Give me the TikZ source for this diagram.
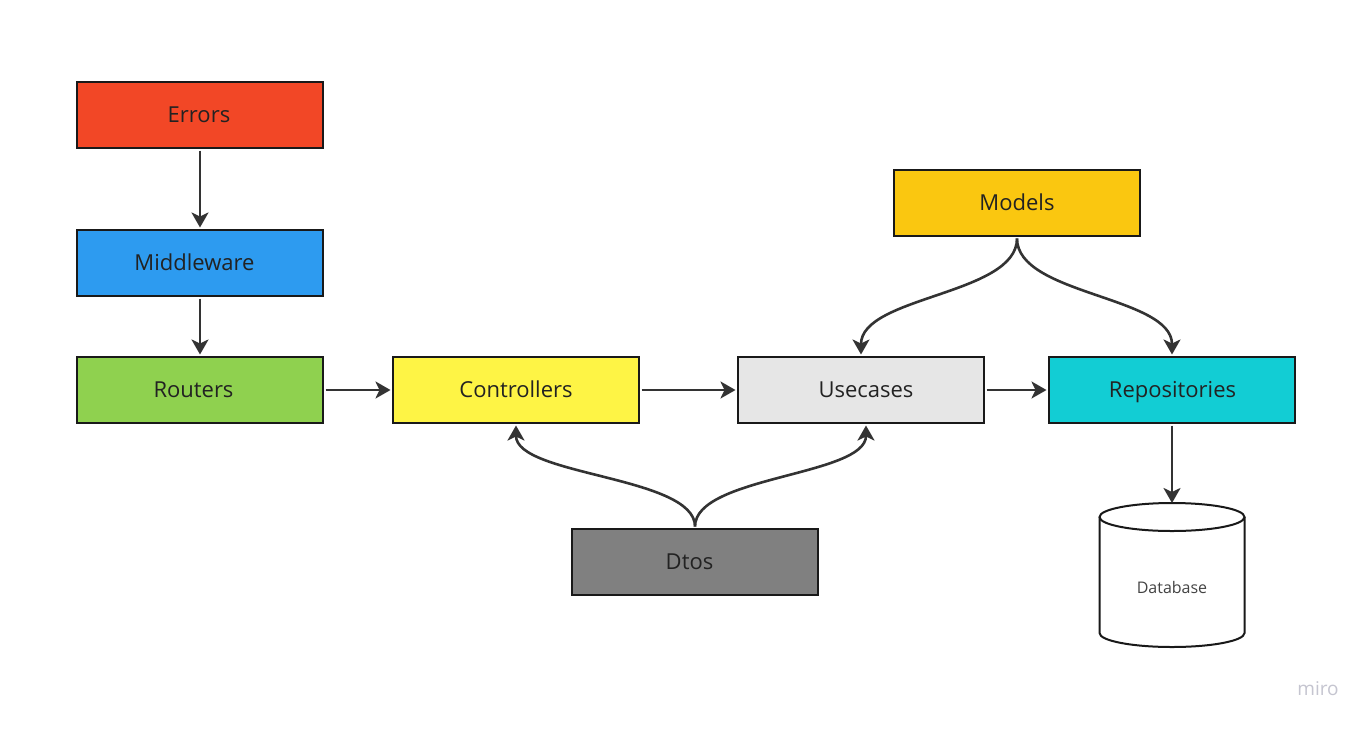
\documentclass[tikz,border=0pt]{standalone}
\usepackage{fontspec}
\setmainfont{Open Sans}
\usetikzlibrary{arrows.meta}
\definecolor{cErr}{HTML}{F24726}
\definecolor{cMid}{HTML}{2D9BF0}
\definecolor{cRou}{HTML}{8FD14F}
\definecolor{cCon}{HTML}{FEF445}
\definecolor{cUse}{HTML}{E6E6E6}
\definecolor{cRep}{HTML}{12CDD4}
\definecolor{cMod}{HTML}{FAC710}
\definecolor{cDto}{HTML}{808080}
\definecolor{cLine}{HTML}{333333}
\definecolor{cText}{HTML}{222222}
\definecolor{cMiro}{HTML}{C5C5D0}
\tikzset{
  box/.style={draw=black!90, line width=2pt, minimum width=246pt, minimum height=66pt, inner sep=0pt},
  lbl/.style={text=cText, font=\fontsize{22}{26}\selectfont, inner sep=0pt, text height=15.7pt, text depth=0pt},
  conn/.style={draw=cLine, line width=2.6pt, -{Stealth[length=15pt,width=17pt,inset=4pt]}, shorten >=1.5pt, shorten <=1.5pt},
}
\begin{document}
\begin{tikzpicture}[x=1pt,y=-1pt]
\useasboundingbox[fill=white] (0,0) rectangle (1371,729);
\node[box, fill=cErr] (err) at (200,115) {};
\node[box, fill=cMid] (mid) at (200,263) {};
\node[box, fill=cRou] (rou) at (200,390) {};
\node[box, fill=cCon] (con) at (516,390) {};
\node[box, fill=cUse] (use) at (861,390) {};
\node[box, fill=cRep] (rep) at (1172,390) {};
\node[box, fill=cMod] (mod) at (1017,203) {};
\node[box, fill=cDto] (dto) at (695,562) {};
\node[lbl] (errt) at (199,115) {Errors};
\node[lbl] (midt) at (194.5,263) {Middleware};
\node[lbl] (rout) at (193.5,390) {Routers};
\node[lbl] (cont) at (516,390) {Controllers};
\node[lbl] (uset) at (866,390) {Usecases};
\node[lbl] (rept) at (1172.5,390) {Repositories};
\node[lbl] (modt) at (1017,203) {Models};
\node[lbl] (dtot) at (689.5,562) {Dtos};
% database cylinder
\draw[black!90, line width=2pt, fill=white] (1099.5,517) -- (1099.5,633) arc[start angle=180, end angle=360, x radius=72.5, y radius=-14] -- (1244.5,517);
\draw[black!90, line width=2pt, fill=white] (1172,517) ellipse[x radius=72.5, y radius=14];
\coordinate (dbtop) at (1172,503);
\node[text=cText!85, font=\fontsize{16}{19}\selectfont] (db) at (1172,587) {Database};
\node[text=cMiro, font=\fontsize{19}{22}\selectfont] (miro) at (1318,689) {miro};
% connectors
\draw[conn] (err) -- (mid);
\draw[conn] (mid) -- (rou);
\draw[conn] (rou) -- (con);
\draw[conn] (con) -- (use);
\draw[conn] (use) -- (rep);
\draw[conn, shorten >=0pt] (rep) -- (dbtop);
\draw[conn] (mod.south) .. controls ++(0,58) and (861,296) .. (use.north);
\draw[conn] (mod.south) .. controls ++(0,58) and (1172,296) .. (rep.north);
\draw[conn] (dto.north) .. controls ++(0,-52) and (516,476) .. (con.south);
\draw[conn] (dto.north) .. controls ++(0,-52) and (866,476) .. ([xshift=5pt]use.south);
\end{tikzpicture}
\end{document}
